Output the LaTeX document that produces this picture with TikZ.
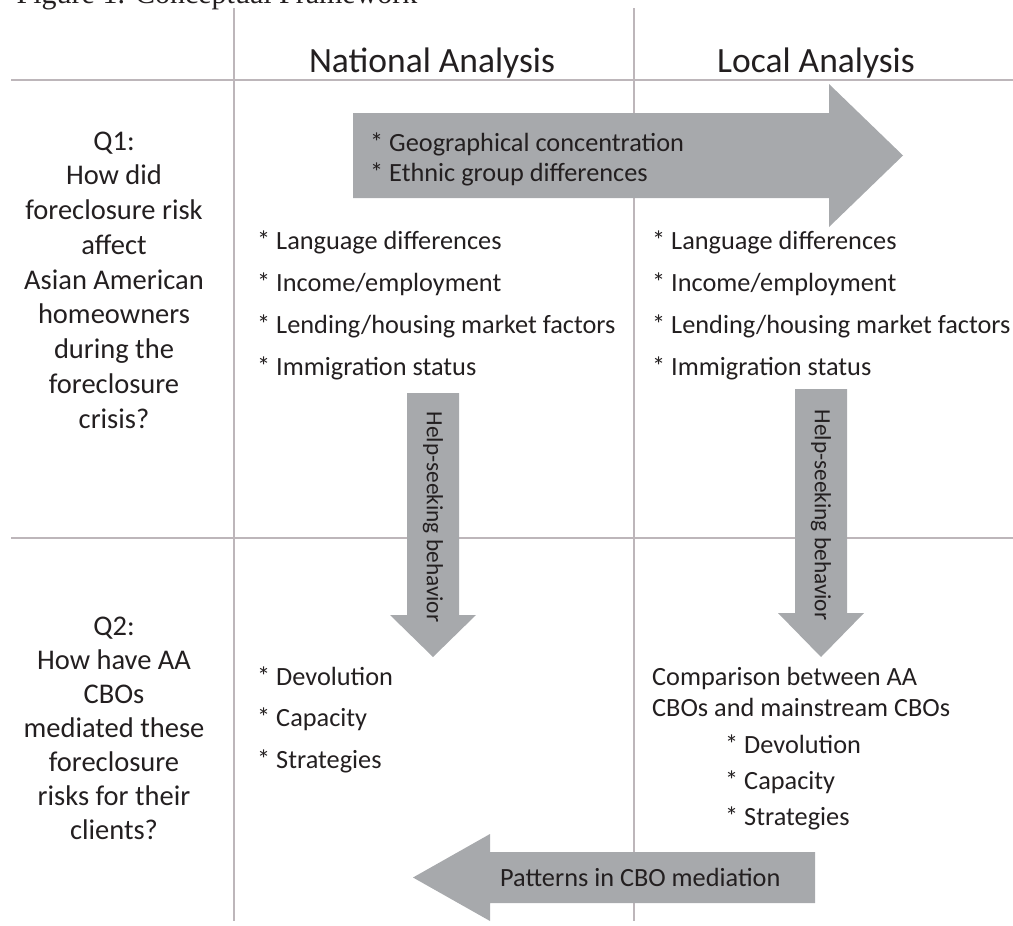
\documentclass[tikz,border=0pt]{standalone}
\usepackage{fontspec}
\setmainfont{Carlito}
\newfontfamily\capfont{Liberation Serif}
\definecolor{gridline}{HTML}{BDB6BA}
\definecolor{arrowfill}{HTML}{A7A9AC}
\definecolor{ink}{HTML}{231F20}
\begin{document}
\begin{tikzpicture}[x=1pt,y=-1pt,
  gridrule/.style={draw=gridline,line width=2.5pt},
  blockarrow/.style={fill=arrowfill,draw=none},
  txt/.style={text=ink,inner sep=0pt},
  bodytext/.style={txt,anchor=base west,font=\fontsize{26.3}{32}\selectfont},
  qtext/.style={txt,anchor=base,font=\fontsize{28.5}{34}\selectfont},
  headtext/.style={txt,anchor=base,font=\fontsize{35.5}{42}\selectfont},
  sidetext/.style={txt,rotate=-90,font=\fontsize{23.3}{28}\selectfont}]
\useasboundingbox (0,0) rectangle (1013,926);

% caption, running off the top edge
\node[txt,anchor=base west,font=\capfont\fontsize{30}{36}\selectfont] (caption) at (16.5,4) {Figure 1. Conceptual Framework};

% table rules
\draw[gridrule] (11,80) -- (1013,80);
\draw[gridrule] (11,538) -- (1013,538);
\draw[gridrule] (234,8) -- (234,921);
\draw[gridrule] (634,8) -- (634,921);

% column headings
\node[headtext] (natHead) at (432,72) {National Analysis};
\node[headtext] (locHead) at (816,72) {Local Analysis};

% research questions
\foreach \ln [count=\i] in {Q1:,How did,foreclosure risk,affect,Asian American,homeowners,during the,foreclosure,crisis?}
  \node[qtext,name=qone-\i] at (114,{150+34.75*(\i-1)}) {\ln};
\foreach \ln [count=\i] in {Q2:,How have AA,CBOs,mediated these,foreclosure,risks for their,clients?}
  \node[qtext,name=qtwo-\i] at (114,{635+34*(\i-1)}) {\ln};

% shared factors arrow
\draw[blockarrow] (353,113) -- (829,113) -- (829,84) -- (903,155.5) -- (829,227) -- (829,198) -- (353,198) -- cycle;
\node[bodytext] (geo) at (370,151) {* Geographical concentration};
\node[bodytext] (ethnic) at (370,181) {* Ethnic group differences};

% risk factors in each column
\foreach \ln [count=\i] in {Language differences,Income/employment,Lending/housing market factors,Immigration status} {
  \node[bodytext,name=natfac-\i] at (257,{249+42*(\i-1)}) {* \ln};
  \node[bodytext,name=locfac-\i] at (652,{249+42*(\i-1)}) {* \ln};
}

% help-seeking arrows
\draw[blockarrow] (407,393) -- (459,393) -- (459,615) -- (476,615) -- (433,657) -- (390,615) -- (407,615) -- cycle;
\node[sidetext] (helpNat) at (433,517) {Help-seeking behavior};
\draw[blockarrow] (795,389) -- (847,389) -- (847,613) -- (864,613) -- (821,657) -- (778,613) -- (795,613) -- cycle;
\node[sidetext] (helpLoc) at (821,515) {Help-seeking behavior};

% CBO mediation items
\foreach \ln [count=\i] in {Devolution,Capacity,Strategies}
  \node[bodytext,name=natcbo-\i] at (257,{685+41.5*(\i-1)}) {* \ln};
\node[bodytext] (cmpA) at (652,685) {Comparison between AA};
\node[bodytext] (cmpB) at (652,716) {CBOs and mainstream CBOs};
\foreach \ln [count=\i] in {Devolution,Capacity,Strategies}
  \node[bodytext,name=loccbo-\i] at (725,{753+36*(\i-1)}) {* \ln};

% feedback arrow
\draw[blockarrow] (815,852) -- (815,903) -- (490,903) -- (490,921) -- (413,877.5) -- (490,834) -- (490,852) -- cycle;
\node[bodytext] (patterns) at (500,886) {Patterns in CBO mediation};
\end{tikzpicture}
\end{document}
